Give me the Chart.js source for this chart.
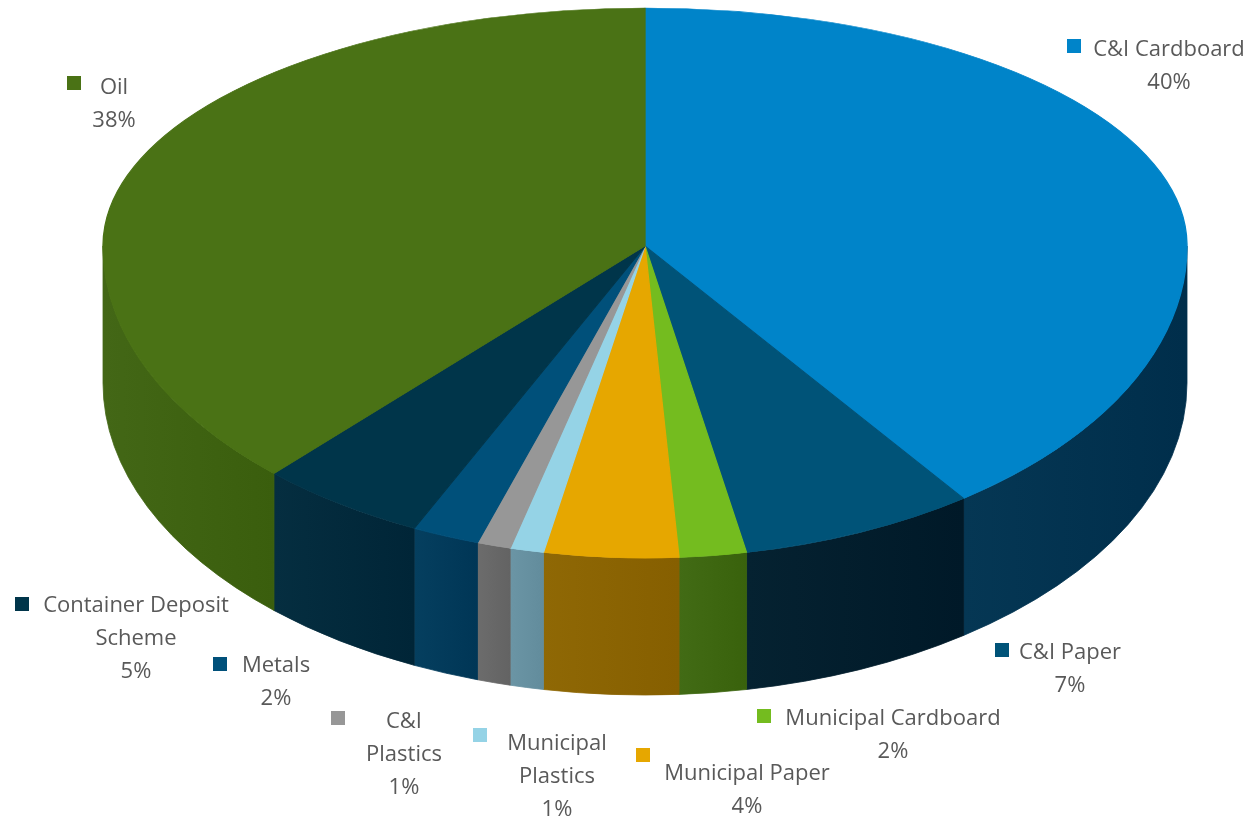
<!DOCTYPE html>
<html>
<head>
<meta charset="utf-8">
<script src="https://cdn.jsdelivr.net/npm/chart.js@4"></script>
<style>
  html, body { margin: 0; padding: 0; background: #fff; }
  #pie { display: block; }
</style>
</head>
<body>
<canvas id="pie" width="1251" height="816"></canvas>
<script>
const categories = ["C&I Cardboard", "C&I Paper", "Municipal Cardboard", "Municipal Paper",
  "Municipal Plastics", "C&I Plastics", "Metals", "Container Deposit Scheme", "Oil"];
const shares = [40, 7, 2, 4, 1, 1, 2, 5, 38];
const labelLines = [["C&I Cardboard"], ["C&I Paper"], ["Municipal Cardboard"], ["Municipal Paper"],
  ["Municipal", "Plastics"], ["C&I", "Plastics"], ["Metals"], ["Container Deposit", "Scheme"], ["Oil"]];

const topColors = ["#0084c9", "#005378", "#74bc1f", "#e6a700", "#95d3e6", "#979797", "#00507a", "#00354a", "#4a7215"];
const sideColors = ["#00324f", "#001d2c", "#3d6610", "#8a6300", "#6690a0", "#676767", "#003a5a", "#00293b", "#3e6211"];

// label placement: square left, square centre y, text centre x, first baseline
const labelAnchors = [
  [1067, 46, 1169, 56], [995, 650, 1070, 659], [757, 716, 893, 725], [636, 755, 747, 780],
  [473, 735, 557, 750], [331, 718, 404, 728], [213, 664, 276, 672], [15, 604, 136, 612], [67, 83, 114, 94]
];

// the flat pie is tilted: back half squashed more than the front half
const EX = 645, EY = 246, RX = 542, RY_BACK = 238, RY_FRONT = 312, DEPTH = 137;
const LINE_H = 33;

function shade(hex, amt) {
  const n = parseInt(hex.slice(1), 16);
  const f = c => Math.max(0, Math.min(255, Math.round(c + amt)));
  return `rgb(${f(n >> 16)},${f((n >> 8) & 255)},${f(n & 255)})`;
}

function tilt(ctx, arc, ry) {
  const { x, y, outerRadius } = arc.getProps(["x", "y", "outerRadius"], true);
  ctx.translate(EX, EY);
  ctx.scale(RX / outerRadius, ry / outerRadius);
  ctx.translate(-x, -y);
}

const tiltPlugin = {
  id: "tilt",
  beforeDatasetsDraw(chart) {
    const ctx = chart.ctx;
    const arcs = chart.getDatasetMeta(0).data;
    // rim: only the front half (canvas angles 0..PI) shows
    arcs.forEach((arc, i) => {
      const { startAngle, endAngle } = arc.getProps(["startAngle", "endAngle"], true);
      let a1 = startAngle, a2 = endAngle;
      while (a1 < 0) { a1 += Math.PI * 2; a2 += Math.PI * 2; }
      [[a1, a2], [a1 - Math.PI * 2, a2 - Math.PI * 2]].forEach(([s, e]) => {
        const lo = Math.max(s, 0), hi = Math.min(e, Math.PI);
        if (hi <= lo) return;
        const x1 = EX + RX * Math.cos(hi), x2 = EX + RX * Math.cos(lo);
        const g = ctx.createLinearGradient(x1, 0, x2, 0);
        g.addColorStop(0, shade(sideColors[i], 5));
        g.addColorStop(1, shade(sideColors[i], -4));
        ctx.beginPath();
        ctx.ellipse(EX, EY, RX, RY_FRONT, 0, lo, hi);
        ctx.ellipse(EX, EY + DEPTH, RX, RY_FRONT, 0, hi, lo, true);
        ctx.closePath();
        ctx.fillStyle = g;
        ctx.fill();
        ctx.strokeStyle = g;
        ctx.lineWidth = 0.8;
        ctx.stroke();
      });
    });
    // back half of the top face
    ctx.save();
    ctx.beginPath();
    ctx.rect(0, 0, chart.width, EY);
    ctx.clip();
    tilt(ctx, arcs[0], RY_BACK);
  },
  afterDatasetsDraw(chart) {
    const ctx = chart.ctx;
    ctx.restore();
    // front half of the top face
    const arcs = chart.getDatasetMeta(0).data;
    ctx.save();
    ctx.beginPath();
    ctx.rect(0, EY, chart.width, chart.height - EY);
    ctx.clip();
    tilt(ctx, arcs[0], RY_FRONT);
    arcs.forEach(arc => arc.draw(ctx));
    ctx.restore();
  },
  afterDraw(chart) {
    const ctx = chart.ctx;
    ctx.save();
    ctx.font = "22px 'Open Sans'";
    ctx.textAlign = "center";
    ctx.textBaseline = "alphabetic";
    labelAnchors.forEach(([sx, sy, tx, ty], i) => {
      ctx.fillStyle = topColors[i];
      ctx.fillRect(sx, sy - 7, 14, 14);
      ctx.fillStyle = "#595959";
      labelLines[i].concat(shares[i] + "%").forEach((line, j) => {
        ctx.fillText(line, tx, ty + j * LINE_H);
      });
    });
    ctx.restore();
  }
};

new Chart(document.getElementById("pie"), {
  type: "pie",
  data: {
    labels: categories,
    datasets: [{
      data: shares,
      backgroundColor: topColors,
      borderColor: topColors,
      borderWidth: 1,
      clip: false
    }]
  },
  options: {
    responsive: false,
    animation: false,
    events: [],
    plugins: {
      legend: { display: false },
      tooltip: { enabled: false }
    }
  },
  plugins: [tiltPlugin]
});
</script>
</body>
</html>
